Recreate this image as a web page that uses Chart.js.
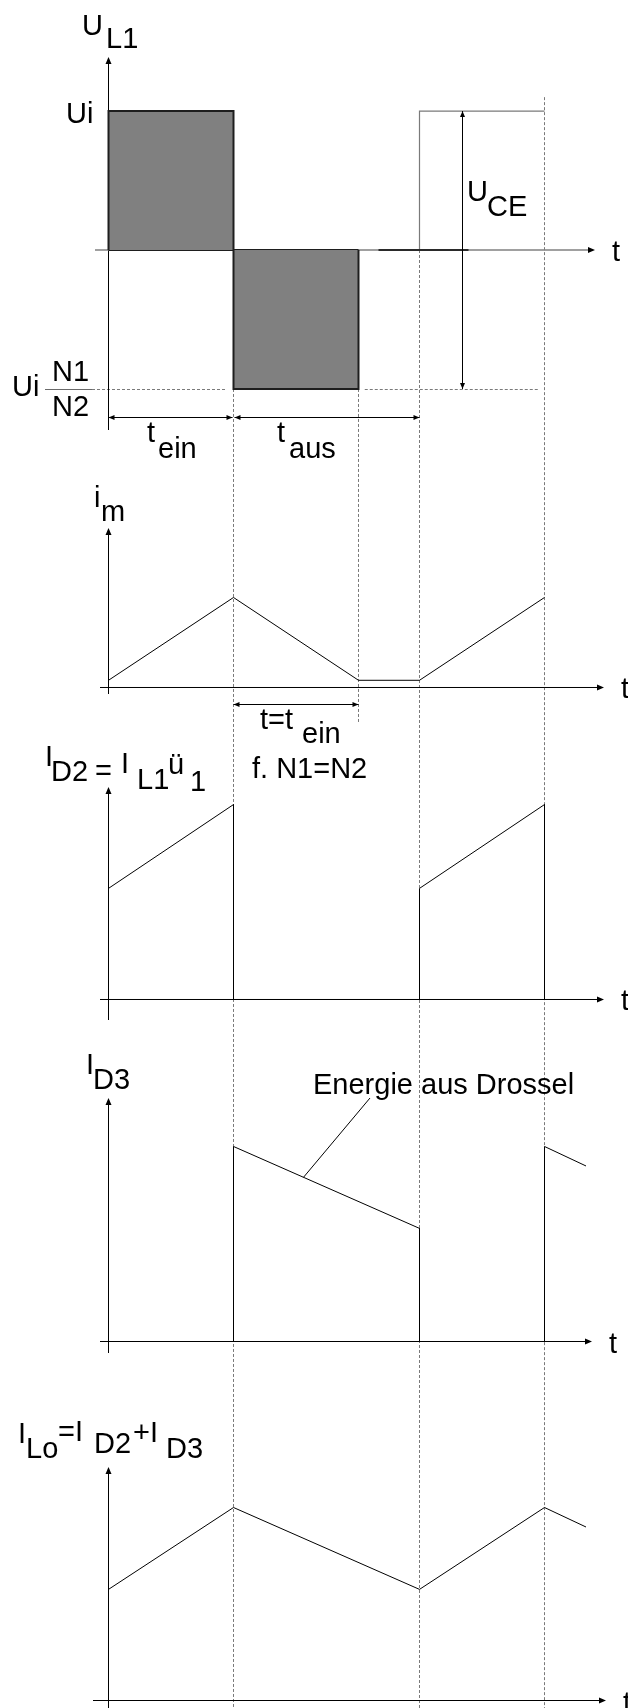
<!DOCTYPE html>
<html>
<head>
<meta charset="utf-8">
<script src="https://cdn.jsdelivr.net/npm/chart.js@4.4.1/dist/chart.umd.min.js"></script>
<style>
  html, body { margin: 0; padding: 0; background: #fff; }
  #wrap { width: 628px; height: 1708px; }
</style>
</head>
<body>
<div id="wrap"><canvas id="diagram" width="628" height="1708"></canvas></div>
<script>
/* ── DATA (time in units of t_ein) ───────────────────────── */
const tMarks = [1, 2, 2.488, 3.488];          // switching instants

// U_L1 (units of Ui)
const uL1T = [0, 0, 1, 1, 2, 2];
const uL1V = [0, 1, 1, -1, -1, 0];
const uL1RestT = [2.16, 2.88];
const uL1RestV = [0, 0];
const uCeT = [2.488, 2.488, 3.488];
const uCeV = [0, 1, 1];

// i_m
const imT = [0, 1, 2, 2.488, 3.488];
const imV = [0.08, 1, 0.08, 0.08, 1];

// I_D2
const iD2T = [0, 1, 1, 2.488, 2.488, 3.488, 3.488];
const iD2V = [0.57, 1, 0, 0, 0.57, 1, 0];

// I_D3
const iD3T = [0, 1, 1, 2.488, 2.488, 3.488, 3.488, 3.82];
const iD3V = [0, 0, 1, 0.58, 0, 0, 1, 0.9];

// I_Lo = I_D2 + I_D3
const iLoT = [0, 1, 2.488, 3.488, 3.82];
const iLoV = [0.57, 0.99, 0.57, 0.99, 0.89];

/* ── PANEL LAYOUT ─────────────────────────────────────────── */
const panelIds = ['y1', 'y2', 'y3', 'y4', 'y5'];
const panelMin = [-1.583, -0.6388, -0.1565, -0.0948, -0.0384];
const panelMax = [1.799, 2.4162, 1.3055, 1.5972, 1.7466];
const panelHeight = [470, 275, 285, 330, 348];

const FONT = '29px "Liberation Sans", Arial, sans-serif';

function series(t, v, axis, extra) {
  return Object.assign({
    data: t.map((x, i) => ({ x, y: v[i] })),
    xAxisID: 'x',
    yAxisID: axis,
    borderColor: '#000',
    borderWidth: 1,
    pointRadius: 0,
    fill: false,
    tension: 0,
    clip: false
  }, extra || {});
}

function head(c, x, y, dx, dy, len = 7, half = 3) {
  c.beginPath();
  c.moveTo(x, y);
  c.lineTo(x - dx * len - dy * half, y - dy * len + dx * half);
  c.lineTo(x - dx * len + dy * half, y - dy * len - dx * half);
  c.closePath();
  c.fill();
}

function line(c, x1, y1, x2, y2) {
  c.beginPath();
  c.moveTo(x1, y1);
  c.lineTo(x2, y2);
  c.stroke();
}

// double-headed dimension arrow
function dimH(c, xa, xb, y) {
  line(c, xa, y, xb, y);
  head(c, xa, y, -1, 0, 6, 2.5);
  head(c, xb, y, 1, 0, 6, 2.5);
}

/* ── AXES, GUIDES, LABELS ─────────────────────────────────── */
const diagramPlugin = {
  id: 'diagram',
  beforeDatasetsDraw(chart) {
    const c = chart.ctx;
    const x = chart.scales.x;
    const y1 = chart.scales.y1;
    const x0 = x.getPixelForValue(0);
    const bottom = chart.height;
    c.save();

    // dashed guides through all panels
    c.strokeStyle = '#7a7a7a';
    c.lineWidth = 1;
    c.setLineDash([3, 2]);
    const guideFrom = [y1.getPixelForValue(-1), y1.getPixelForValue(-1), y1.getPixelForValue(0), y1.getPixelForValue(1.1)];
    const guideTo = [bottom, chart.scales.y2.getPixelForValue(-0.39), bottom, bottom];
    tMarks.forEach((t, i) => {
      const px = Math.floor(x.getPixelForValue(t)) + 0.5;
      line(c, px, guideFrom[i], px, guideTo[i]);
    });

    // dotted level Ui*N1/N2
    const yLow = Math.round(y1.getPixelForValue(-1)) + 0.5;
    line(c, 92, yLow, x.getPixelForValue(0.94), yLow);
    line(c, x.getPixelForValue(2.05), yLow, x.getPixelForValue(3.44), yLow);
    c.setLineDash([]);
    // fraction bar
    c.strokeStyle = '#6a6a6a';
    line(c, 45, yLow, 92, yLow);

    // axes
    const axes = [
      { top: 57, bot: 430, left: 95, right: 595, color: '#808080', lw: 1.5 },
      { top: 528, bot: 694, left: 100, right: 604, color: '#000', lw: 1 },
      { top: 787, bot: 1020, left: 100, right: 604, color: '#000', lw: 1 },
      { top: 1098, bot: 1353, left: 100, right: 592, color: '#000', lw: 1 },
      { top: 1467, bot: 1708, left: 93, right: 606, color: '#000', lw: 1 }
    ];
    axes.forEach((a, i) => {
      const zy = chart.scales[panelIds[i]].getPixelForValue(0);
      c.strokeStyle = '#000';
      c.fillStyle = '#000';
      c.lineWidth = 1;
      line(c, x0, a.top + 4, x0, a.bot);
      head(c, x0, a.top, 0, -1);
      c.strokeStyle = a.color;
      c.lineWidth = a.lw;
      line(c, a.left, zy, a.right - 4, zy);
      head(c, a.right, zy, 1, 0);
      c.font = FONT;
      c.fillText('t', a.right + 17, zy + 11);
    });
    c.restore();
  },

  afterDatasetsDraw(chart) {
    const c = chart.ctx;
    const x = chart.scales.x;
    const y1 = chart.scales.y1;
    c.save();
    c.strokeStyle = '#000';
    c.fillStyle = '#000';
    c.lineWidth = 1;

    // t_ein / t_aus
    const yDim = Math.round(y1.getPixelForValue(-1.2)) + 0.5;
    dimH(c, x.getPixelForValue(0), x.getPixelForValue(1) - 1, yDim);
    dimH(c, x.getPixelForValue(1) + 1, x.getPixelForValue(2.488), yDim);

    // U_CE
    const xCe = Math.floor(x.getPixelForValue(2.83)) + 0.5;
    const yTop = y1.getPixelForValue(1), yBot = y1.getPixelForValue(-1);
    line(c, xCe, yTop, xCe, yBot);
    head(c, xCe, yTop, 0, -1, 6, 2.5);
    head(c, xCe, yBot, 0, 1, 6, 2.5);

    // t = t_ein under i_m
    const yT2 = Math.round(chart.scales.y2.getPixelForValue(-0.18)) + 0.5;
    dimH(c, x.getPixelForValue(1), x.getPixelForValue(2), yT2);

    // leader to the I_D3 slope
    const y4 = chart.scales.y4;
    const tL = 1.56;
    const vL = iD3V[2] + (iD3V[3] - iD3V[2]) * (tL - iD3T[2]) / (iD3T[3] - iD3T[2]);
    line(c, 370, 1098, x.getPixelForValue(tL), y4.getPixelForValue(vL));

    // text
    c.font = FONT;
    c.textBaseline = 'alphabetic';
    const labels = [
      ['U', 82, 35], ['L1', 106, 48],
      ['Ui', 66, 123],
      ['Ui', 12, 396], ['N1', 52, 381], ['N2', 52, 416],
      ['t', 147, 442], ['ein', 158, 458],
      ['t', 277, 442], ['aus', 289, 458],
      ['U', 467, 201], ['CE', 487, 216],
      ['i', 94, 507], ['m', 101, 521],
      ['t=t', 260, 729], ['ein', 302, 743],
      ['f. N1=N2', 252, 778],
      ['I', 45, 766], ['D2', 51, 781], ['=', 95, 780], ['I', 121, 773], ['L1', 137, 789], ['ü', 168, 774], ['1', 190, 791],
      ['I', 86, 1074], ['D3', 93, 1089],
      ['Energie aus Drossel', 313, 1094],
      ['I', 18, 1443], ['Lo', 26, 1458], ['=I', 58, 1441], ['D2', 94, 1453], ['+I', 133, 1442], ['D3', 166, 1458]
    ];
    labels.forEach(([s, lx, ly]) => c.fillText(s, lx, ly));
    c.restore();
  }
};

/* ── CHART ───────────────────────────────────────────────── */
const yScales = {};
panelIds.forEach((id, i) => {
  yScales[id] = {
    type: 'linear',
    display: false,
    position: 'right',
    stack: 'panels',
    stackWeight: panelHeight[i],
    weight: i + 1,
    min: panelMin[i],
    max: panelMax[i]
  };
});

new Chart(document.getElementById('diagram'), {
  type: 'line',
  data: {
    datasets: [
      series(uL1T, uL1V, 'y1', { fill: 'origin', backgroundColor: '#808080', borderColor: '#1e1e1e', borderWidth: 2 }),
      series([0, 2], [0, 0], 'y1', { borderColor: '#1e1e1e', borderWidth: 2 }),
      series(uL1RestT, uL1RestV, 'y1', { borderColor: '#2a2a2a', borderWidth: 2 }),
      series(uCeT, uCeV, 'y1', { borderColor: '#7a7a7a', borderWidth: 1.2 }),
      series(imT, imV, 'y2'),
      series(iD2T, iD2V, 'y3'),
      series(iD3T, iD3V, 'y4'),
      series(iLoT, iLoV, 'y5')
    ]
  },
  options: {
    responsive: false,
    animation: false,
    layout: { padding: 0 },
    plugins: { legend: { display: false }, tooltip: { enabled: false } },
    scales: Object.assign({
      x: { type: 'linear', display: false, min: -0.868, max: 4.156 }
    }, yScales)
  },
  plugins: [diagramPlugin]
});
</script>
</body>
</html>
